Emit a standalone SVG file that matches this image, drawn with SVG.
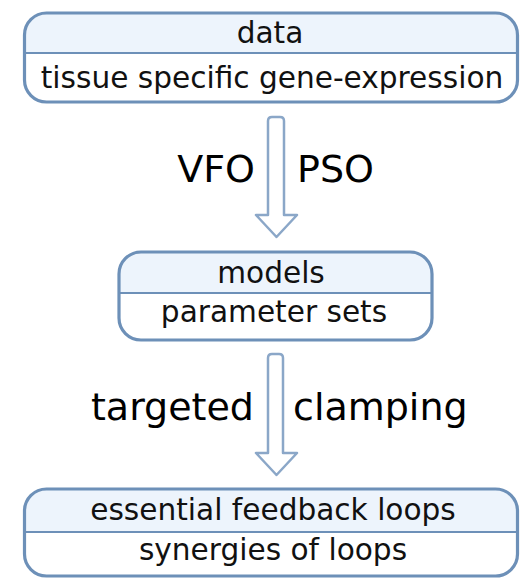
<svg xmlns="http://www.w3.org/2000/svg" width="530" height="579" viewBox="0 0 530 579">
  <style>
    .frame { fill: none; stroke: #6d90b8; stroke-width: 3.2; }
    .head { fill: #edf4fc; }
    .body { fill: #ffffff; }
    .rule { stroke: #6d90b8; stroke-width: 2; }
    .txt { font-family: "DejaVu Sans", sans-serif; font-size: 29.6px; fill: #111111; text-anchor: middle; }
    .lbl { font-family: "DejaVu Sans", sans-serif; font-size: 38px; fill: #000000; }
    .arrow { fill: #ffffff; stroke: #8ba7c8; stroke-width: 2.5; stroke-linejoin: round; }
  </style>
  <rect width="530" height="579" fill="#ffffff"/>

  <!-- data -->
  <g id="data">
    <clipPath id="c1"><rect x="24.5" y="13" width="493" height="89" rx="22"/></clipPath>
    <g clip-path="url(#c1)">
      <rect class="body" x="24.5" y="13" width="493" height="89"/>
      <rect class="head" x="24.5" y="13" width="493" height="40"/>
    </g>
    <line class="rule" x1="24.5" y1="53" x2="517.5" y2="53"/>
    <rect class="frame" x="24.5" y="13" width="493" height="89" rx="22"/>
    <text class="txt" x="270" y="43">data</text>
    <text class="txt" x="272" y="88">tissue specific gene-expression</text>
  </g>

  <!-- models -->
  <g id="models">
    <clipPath id="c2"><rect x="119" y="252" width="313" height="88" rx="22"/></clipPath>
    <g clip-path="url(#c2)">
      <rect class="body" x="119" y="252" width="313" height="88"/>
      <rect class="head" x="119" y="252" width="313" height="41"/>
    </g>
    <line class="rule" x1="119" y1="293" x2="432" y2="293"/>
    <rect class="frame" x="119" y="252" width="313" height="88" rx="22"/>
    <text class="txt" x="271" y="283">models</text>
    <text class="txt" x="274" y="322">parameter sets</text>
  </g>

  <!-- loops -->
  <g id="loops">
    <clipPath id="c3"><rect x="24.5" y="489" width="493" height="87" rx="22"/></clipPath>
    <g clip-path="url(#c3)">
      <rect class="body" x="24.5" y="489" width="493" height="87"/>
      <rect class="head" x="24.5" y="489" width="493" height="43"/>
    </g>
    <line class="rule" x1="24.5" y1="532" x2="517.5" y2="532"/>
    <rect class="frame" x="24.5" y="489" width="493" height="87" rx="22"/>
    <text class="txt" x="273" y="520">essential feedback loops</text>
    <text class="txt" x="273" y="560">synergies of loops</text>
  </g>

  <!-- connectors -->
  <g id="connectors">
    <path class="arrow" d="M268,215 L268,121 Q268,117 272,117 L280,117 Q284,117 284,121 L284,215 L297,215 L276.5,237 L256,215 Z"/>
    <text class="lbl" x="255" y="182" text-anchor="end">VFO</text>
    <text class="lbl" x="297" y="182">PSO</text>

    <path class="arrow" d="M268,453 L268,358 Q268,354 272,354 L279,354 Q283,354 283,358 L283,453 L297,453 L276.5,475 L256,453 Z"/>
    <text class="lbl" x="254" y="420" text-anchor="end">targeted</text>
    <text class="lbl" x="293" y="420">clamping</text>
  </g>
</svg>
